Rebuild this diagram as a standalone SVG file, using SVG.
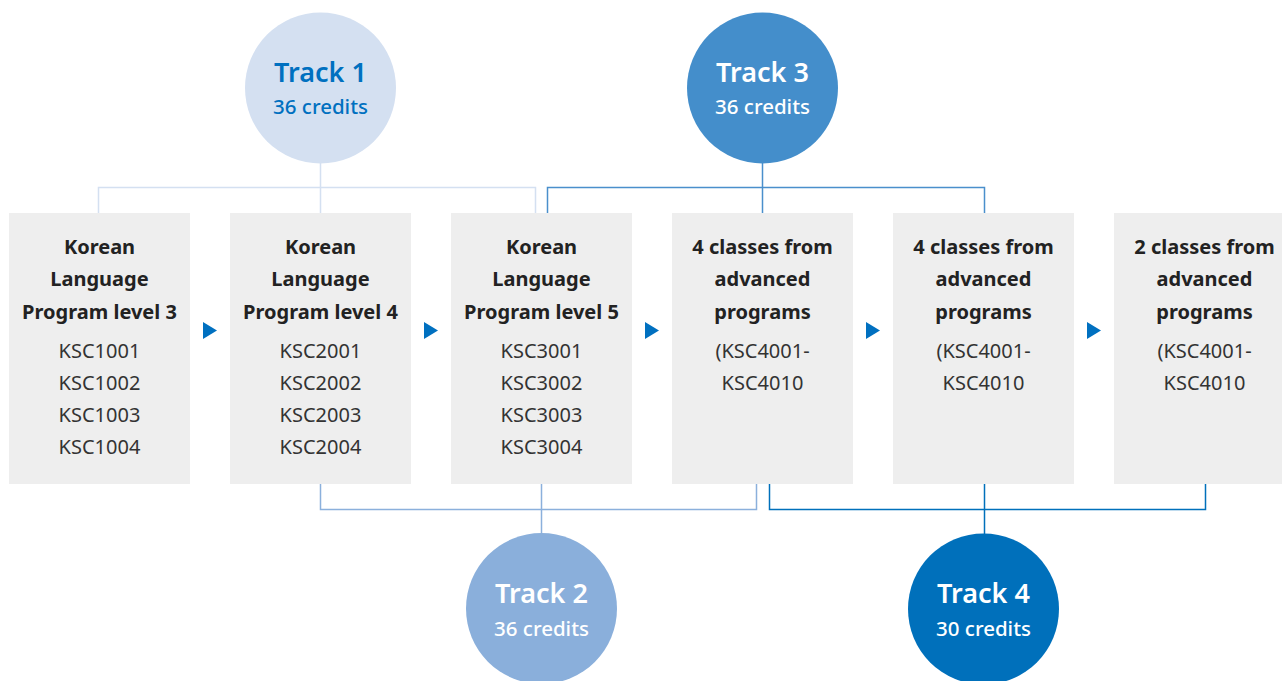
<svg xmlns="http://www.w3.org/2000/svg" width="1282" height="681" viewBox="0 0 1282 681">
<style>
  .box { fill: #eeeeee; }
  .h { font-family: "Noto Sans", "Liberation Sans", sans-serif; font-weight: bold; font-size: 20px; fill: #222222; text-anchor: middle; }
  .c { font-family: "Noto Sans", "Liberation Sans", sans-serif; font-size: 20px; fill: #333333; text-anchor: middle; }
  .t { font-family: "Noto Sans", "Liberation Sans", sans-serif; font-weight: 600; font-size: 27px; text-anchor: middle; }
  .cr { font-family: "Noto Sans", "Liberation Sans", sans-serif; font-weight: 550; font-size: 20.5px; text-anchor: middle; }
  .l1 { fill: none; stroke: #d4e0f1; stroke-width: 1.5; }
  .l2 { fill: none; stroke: #8bb0dc; stroke-width: 1.5; }
  .l3 { fill: none; stroke: #4a8fcc; stroke-width: 1.5; }
  .l4 { fill: none; stroke: #0070bb; stroke-width: 1.5; }
  .arr { fill: #0070c0; }
</style>
<rect width="1282" height="681" fill="#ffffff"/>
<g id="connectors">
  <path class="l1" d="M320.5,163 V187.5 M98.5,213 V187.5 H535.5 V213 M320.5,187.5 V213"/>
  <path class="l3" d="M762.5,163 V187.5 M547.5,213 V187.5 H984.5 V213 M762.5,187.5 V213"/>
  <path class="l2" d="M320.5,484 V509.5 H756.5 V484 M541.5,484 V533"/>
  <path class="l4" d="M769.5,484 V509.5 H1205.5 V484 M984.5,484 V534"/>
  <polygon class="arr" points="203,322 217,330.5 203,339"/>
  <polygon class="arr" points="424,322 438,330.5 424,339"/>
  <polygon class="arr" points="645,322 659,330.5 645,339"/>
  <polygon class="arr" points="866,322 880,330.5 866,339"/>
  <polygon class="arr" points="1087,322 1101,330.5 1087,339"/>
</g>
<g id="box1">
  <rect class="box" x="9" y="213" width="181" height="271"/>
  <text class="h" x="99.5" y="254">Korean</text>
  <text class="h" x="99.5" y="286">Language</text>
  <text class="h" x="99.5" y="319">Program level 3</text>
  <text class="c" x="99.5" y="358">KSC1001</text>
  <text class="c" x="99.5" y="390">KSC1002</text>
  <text class="c" x="99.5" y="422">KSC1003</text>
  <text class="c" x="99.5" y="454">KSC1004</text>
</g>
<g id="box2">
  <rect class="box" x="230" y="213" width="181" height="271"/>
  <text class="h" x="320.5" y="254">Korean</text>
  <text class="h" x="320.5" y="286">Language</text>
  <text class="h" x="320.5" y="319">Program level 4</text>
  <text class="c" x="320.5" y="358">KSC2001</text>
  <text class="c" x="320.5" y="390">KSC2002</text>
  <text class="c" x="320.5" y="422">KSC2003</text>
  <text class="c" x="320.5" y="454">KSC2004</text>
</g>
<g id="box3">
  <rect class="box" x="451" y="213" width="181" height="271"/>
  <text class="h" x="541.5" y="254">Korean</text>
  <text class="h" x="541.5" y="286">Language</text>
  <text class="h" x="541.5" y="319">Program level 5</text>
  <text class="c" x="541.5" y="358">KSC3001</text>
  <text class="c" x="541.5" y="390">KSC3002</text>
  <text class="c" x="541.5" y="422">KSC3003</text>
  <text class="c" x="541.5" y="454">KSC3004</text>
</g>
<g id="box4">
  <rect class="box" x="672" y="213" width="181" height="271"/>
  <text class="h" x="762.5" y="254">4 classes from</text>
  <text class="h" x="762.5" y="286">advanced</text>
  <text class="h" x="762.5" y="319">programs</text>
  <text class="c" x="762.5" y="358">(KSC4001-</text>
  <text class="c" x="762.5" y="390">KSC4010</text>
</g>
<g id="box5">
  <rect class="box" x="893" y="213" width="181" height="271"/>
  <text class="h" x="983.5" y="254">4 classes from</text>
  <text class="h" x="983.5" y="286">advanced</text>
  <text class="h" x="983.5" y="319">programs</text>
  <text class="c" x="983.5" y="358">(KSC4001-</text>
  <text class="c" x="983.5" y="390">KSC4010</text>
</g>
<g id="box6">
  <rect class="box" x="1114" y="213" width="181" height="271"/>
  <text class="h" x="1204.5" y="254">2 classes from</text>
  <text class="h" x="1204.5" y="286">advanced</text>
  <text class="h" x="1204.5" y="319">programs</text>
  <text class="c" x="1204.5" y="358">(KSC4001-</text>
  <text class="c" x="1204.5" y="390">KSC4010</text>
</g>
<g id="track1">
  <circle cx="320.5" cy="88" r="75.5" fill="#d4e0f1"/>
  <text class="t" x="320.5" y="82" fill="#0070c0">Track 1</text>
  <text class="cr" x="320.5" y="114" fill="#0070c0">36 credits</text>
</g>
<g id="track3">
  <circle cx="762.5" cy="88" r="75.5" fill="#448ecb"/>
  <text class="t" x="762.5" y="82" fill="#ffffff">Track 3</text>
  <text class="cr" x="762.5" y="114" fill="#ffffff">36 credits</text>
</g>
<g id="track2">
  <circle cx="541.5" cy="608.5" r="75.5" fill="#8aafdb"/>
  <text class="t" x="541.5" y="603" fill="#ffffff">Track 2</text>
  <text class="cr" x="541.5" y="636" fill="#ffffff">36 credits</text>
</g>
<g id="track4">
  <circle cx="983.5" cy="609" r="75.5" fill="#0070bb"/>
  <text class="t" x="983.5" y="603" fill="#ffffff">Track 4</text>
  <text class="cr" x="983.5" y="636" fill="#ffffff">30 credits</text>
</g>
</svg>
